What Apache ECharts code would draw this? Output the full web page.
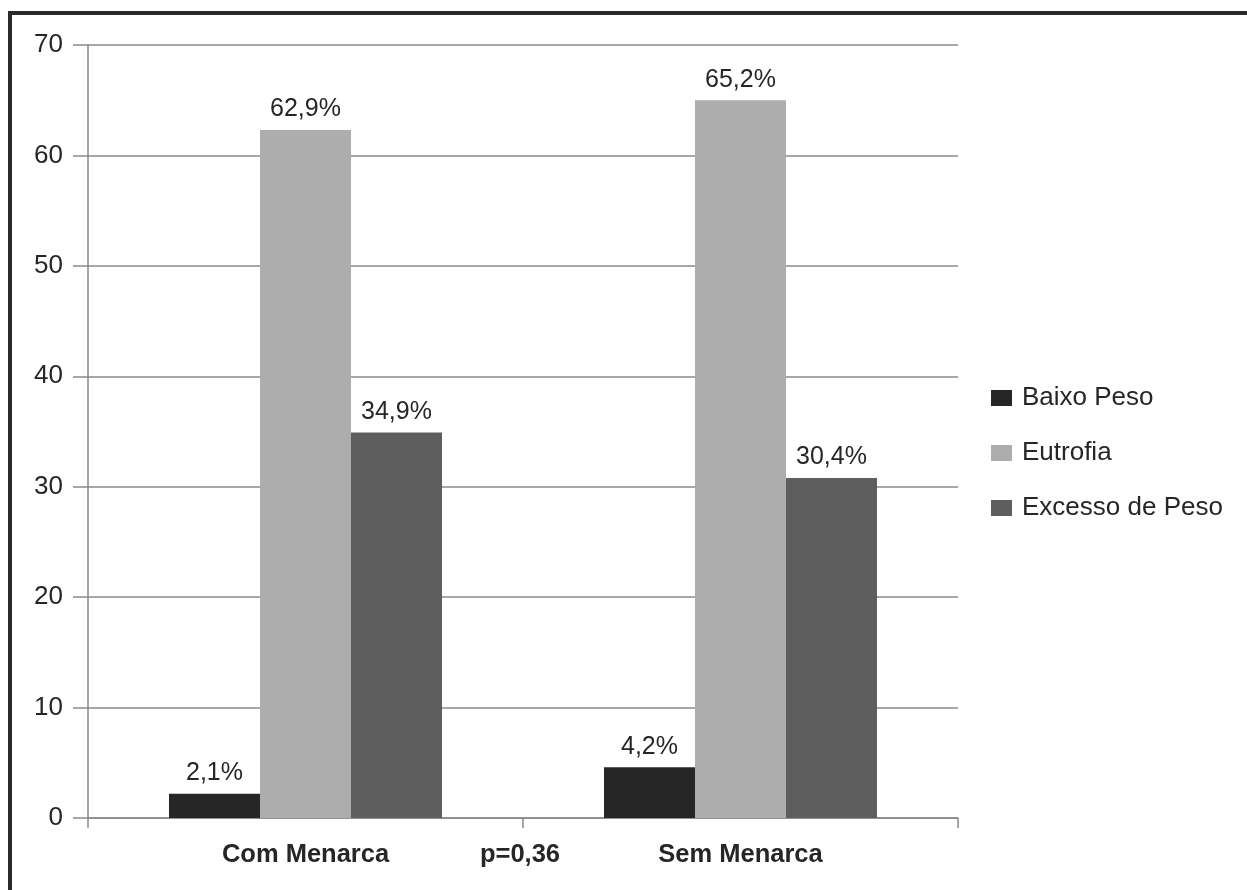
<!DOCTYPE html>
<html>
<head>
<meta charset="utf-8">
<script src="https://cdn.jsdelivr.net/npm/echarts@6/dist/echarts.min.js"></script>
<style>
html,body{margin:0;padding:0;background:#fff;}
#c{width:1247px;height:890px;}
</style>
</head>
<body>
<div id="c"></div>
<script>
const categories = ['Com Menarca', 'Sem Menarca'];
const seriesNames = ['Baixo Peso', 'Eutrofia', 'Excesso de Peso'];
const baixoPeso = [2.2, 4.6];
const eutrofia = [62.3, 65.0];
const excessoPeso = [34.9, 30.8];
const baixoPesoLabels = ['2,1%', '4,2%'];
const eutrofiaLabels = ['62,9%', '65,2%'];
const excessoPesoLabels = ['34,9%', '30,4%'];
const pValueText = 'p=0,36';
const yTicks = {min: 0, max: 70, interval: 10};

const FONT = '"Liberation Sans", Arial, sans-serif';
const TXT = '#262626';
const colors = ['#262626', '#adadad', '#5e5e5e'];

function mk(name, data, labels, color) {
  return {
    name: name,
    type: 'bar',
    data: data,
    barWidth: 91,
    barGap: '0%',
    itemStyle: {color: color},
    label: {
      show: true,
      position: 'top',
      distance: 8,
      color: TXT,
      fontFamily: FONT,
      fontSize: 25,
      formatter: p => labels[p.dataIndex]
    }
  };
}

const chart = echarts.init(document.getElementById('c'), null, {renderer: 'canvas'});
chart.setOption({
  animation: false,
  backgroundColor: '#fff',
  grid: {left: 88, right: 289, top: 45, bottom: 72, containLabel: false},
  legend: {
    orient: 'vertical',
    left: 986,
    top: 380,
    itemWidth: 21,
    itemHeight: 16,
    itemGap: 29,
    icon: 'rect',
    textStyle: {color: TXT, fontFamily: FONT, fontSize: 26, padding: [0, 0, 0, 5]},
    data: seriesNames
  },
  xAxis: {
    type: 'category',
    data: categories,
    axisLine: {show: true, lineStyle: {color: '#8a8a8a', width: 1.5}},
    axisTick: {show: true, length: 10, lineStyle: {color: '#8a8a8a', width: 1.5}},
    axisLabel: {color: TXT, fontFamily: FONT, fontSize: 25.5, fontWeight: 'bold', margin: 24}
  },
  yAxis: {
    type: 'value',
    min: yTicks.min, max: yTicks.max, interval: yTicks.interval,
    axisLine: {show: true, lineStyle: {color: '#8a8a8a', width: 1.5}},
    axisTick: {show: true, length: 15, lineStyle: {color: '#8a8a8a', width: 1.5}},
    axisLabel: {color: TXT, fontFamily: FONT, fontSize: 26, margin: 25},
    splitLine: {show: true, lineStyle: {color: '#8a8a8a', width: 1.5}}
  },
  graphic: [
    {
      type: 'rect',
      shape: {x: 10, y: 13, width: 1400, height: 1000},
      style: {fill: null, stroke: '#2a2a2a', lineWidth: 4},
      silent: true
    },
    {
      type: 'text',
      x: 520, y: 855,
      style: {text: pValueText, fill: TXT, font: 'bold 25.5px ' + FONT, align: 'center', verticalAlign: 'middle'}
    }
  ],
  series: [
    mk(seriesNames[0], baixoPeso, baixoPesoLabels, colors[0]),
    mk(seriesNames[1], eutrofia, eutrofiaLabels, colors[1]),
    mk(seriesNames[2], excessoPeso, excessoPesoLabels, colors[2])
  ]
});
</script>
</body>
</html>
